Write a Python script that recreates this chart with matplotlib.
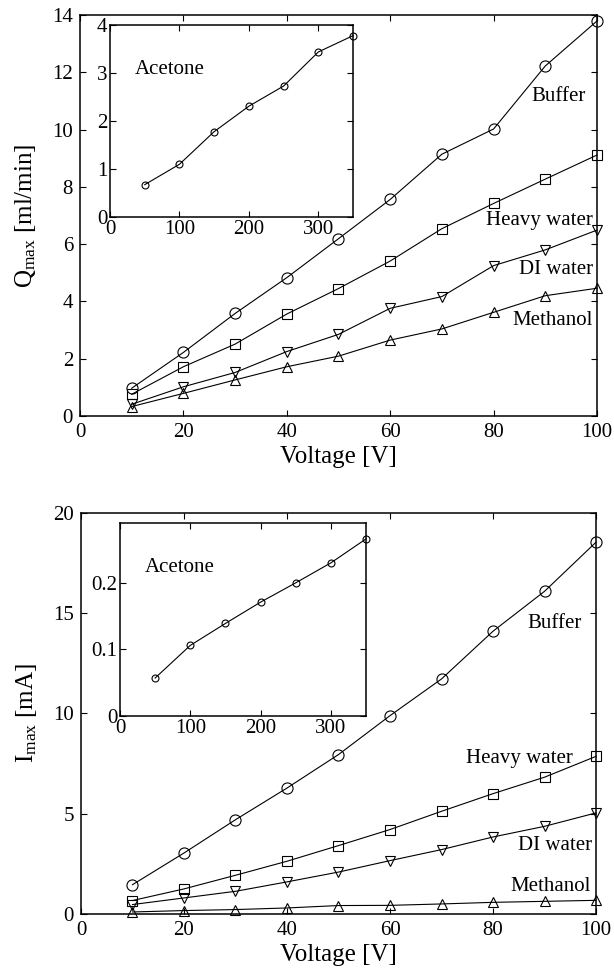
import matplotlib
matplotlib.use("Agg")
import matplotlib.pyplot as plt

plt.rcParams["font.family"] = ["Liberation Serif", "DejaVu Serif"]
plt.rcParams["mathtext.fontset"] = "custom"
plt.rcParams["mathtext.rm"] = "Liberation Serif"
plt.rcParams["mathtext.it"] = "Liberation Serif:italic"

# Main panels: voltage sweep
voltage = [10, 20, 30, 40, 50, 60, 70, 80, 90, 100]

q_buffer = [0.97, 2.22, 3.58, 4.83, 6.19, 7.56, 9.14, 10.02, 12.22, 13.79]
q_heavy = [0.76, 1.72, 2.51, 3.56, 4.45, 5.41, 6.54, 7.42, 8.27, 9.11]
q_di = [0.41, 1.02, 1.52, 2.25, 2.85, 3.76, 4.17, 5.25, 5.80, 6.49]
q_methanol = [0.33, 0.79, 1.26, 1.72, 2.09, 2.65, 3.04, 3.62, 4.20, 4.46]

i_buffer = [1.46, 3.04, 4.70, 6.28, 7.95, 9.89, 11.72, 14.10, 16.09, 18.54]
i_heavy = [0.67, 1.25, 1.93, 2.63, 3.41, 4.21, 5.12, 6.00, 6.82, 7.86]
i_di = [0.47, 0.80, 1.13, 1.60, 2.09, 2.66, 3.21, 3.84, 4.37, 5.04]
i_methanol = [0.10, 0.17, 0.22, 0.30, 0.42, 0.43, 0.50, 0.58, 0.63, 0.68]

# Insets: acetone
acetone_voltage = [50, 100, 150, 200, 250, 300, 350]
q_acetone = [0.675, 1.10, 1.78, 2.31, 2.73, 3.44, 3.78]
i_acetone = [0.057, 0.106, 0.139, 0.171, 0.200, 0.230, 0.266]

fluid_names = ["Buffer", "Heavy water", "DI water", "Methanol"]
markers = ["o", "s", "v", "^"]
marker_sizes = [8, 6.5, 7, 7]


def style_axes(ax, pad=2, fontsize=15):
    ax.tick_params(direction="in", top=True, right=True, length=4,
                   width=0.8, labelsize=fontsize, pad=pad)
    for sp in ax.spines.values():
        sp.set_linewidth(1.1)


def draw_main(ax, series, label_pos, ylim, yticks, ylabel):
    for ys, m, ms in zip(series, markers, marker_sizes):
        ax.plot(voltage, ys, color="black", linewidth=0.8, marker=m,
                markersize=ms, markerfacecolor="none",
                markeredgecolor="black", markeredgewidth=0.8, clip_on=False)
    for name, (tx, ty) in zip(fluid_names, label_pos):
        ax.text(tx, ty, name, ha="right", va="center", fontsize=15)
    ax.set_xlim(0, 100)
    ax.set_xticks([0, 20, 40, 60, 80, 100])
    ax.set_ylim(*ylim)
    ax.set_yticks(yticks)
    style_axes(ax, pad=5)
    ax.set_xlabel("Voltage [V]", fontsize=18, labelpad=3)
    ax.set_ylabel(ylabel, fontsize=18, labelpad=10)


def draw_inset(ax, ys, ylim, yticks, yticklabels):
    ax.set_facecolor("white")
    ax.plot(acetone_voltage, ys, color="black", linewidth=0.8, marker="o",
            markersize=5, markerfacecolor="none", markeredgecolor="black",
            markeredgewidth=0.8, clip_on=False)
    ax.set_xlim(0, 350)
    ax.set_xticks([0, 100, 200, 300])
    ax.set_ylim(*ylim)
    ax.set_yticks(yticks)
    ax.set_yticklabels(yticklabels)
    ax.text(0.10, 0.77, "Acetone", transform=ax.transAxes, fontsize=15,
            ha="left", va="center")
    style_axes(ax, pad=2)


fig = plt.figure(figsize=(6.14, 9.72), dpi=100, facecolor="white")

ax_top = fig.add_axes([0.1303, 0.572, 0.842, 0.4126])
draw_main(ax_top, [q_buffer, q_heavy, q_di, q_methanol],
          [(97.9, 11.14), (99.2, 6.84), (99.2, 5.13), (99.2, 3.32)],
          (0, 14), [0, 2, 4, 6, 8, 10, 12, 14],
          r"Q$_{\mathrm{max}}$ [ml/min]")

ax_bot = fig.add_axes([0.1319, 0.0597, 0.8388, 0.4126])
draw_main(ax_bot, [i_buffer, i_heavy, i_di, i_methanol],
          [(97.3, 14.51), (95.5, 7.73), (99.2, 3.39), (99.0, 1.35)],
          (0, 20), [0, 5, 10, 15, 20],
          r"I$_{\mathrm{max}}$ [mA]")

ax_in1 = fig.add_axes([0.1792, 0.7767, 0.3958, 0.1975])
draw_inset(ax_in1, q_acetone, (0, 4), [0, 1, 2, 3, 4],
           ["0", "1", "2", "3", "4"])

ax_in2 = fig.add_axes([0.1954, 0.2634, 0.4007, 0.1986])
draw_inset(ax_in2, i_acetone, (0, 0.29), [0, 0.1, 0.2],
           ["0", "0.1", "0.2"])

fig.savefig("out.png", dpi=100, facecolor="white")
